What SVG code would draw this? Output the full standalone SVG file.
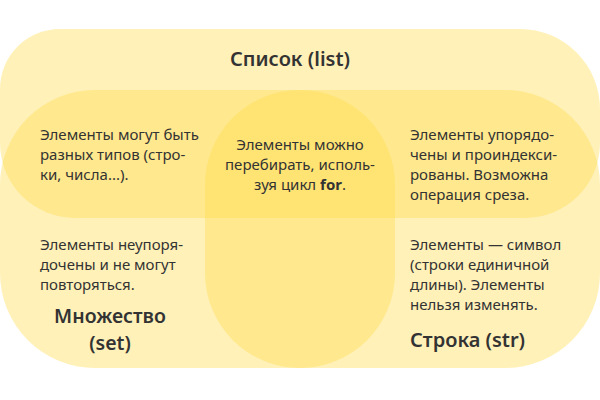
<svg xmlns="http://www.w3.org/2000/svg" width="600" height="400" viewBox="0 0 600 400">
<style>
.sh{fill:#FFDB4D;fill-opacity:0.4}
text{font-family:"Noto Sans","Open Sans",sans-serif;fill:#333333}
.t{font-size:15px}
.h{font-size:20px;font-weight:600}
.hs{font-size:19.5px;font-weight:600}
.b{font-weight:700}
</style>
<rect width="600" height="400" fill="#ffffff"/>
<g id="list">
<path class="sh" d="M60,29 H520 A80,80 0 0 1 600,109 V143 A75,75 0 0 1 525,218 H75 A75,75 0 0 1 0,143 V89 A60,60 0 0 1 60,29 Z"/>
<text class="h" x="290" y="66" text-anchor="middle">Список (list)</text>
</g>
<g id="set">
<path class="sh" d="M95,90 H300 A95,95 0 0 1 395,185 V273 A95,95 0 0 1 300,368 H95 A95,95 0 0 1 0,273 V185 A95,95 0 0 1 95,90 Z"/>
<text class="t" x="40" y="250">Элементы неупоря-</text>
<text class="t" x="40" y="270">дочены и не могут</text>
<text class="t" x="40" y="290">повторяться.</text>
<text class="hs" x="110" y="323" text-anchor="middle">Множество</text>
<text class="hs" x="110" y="350" text-anchor="middle">(set)</text>
</g>
<g id="str">
<path class="sh" d="M300,90 H505 A95,95 0 0 1 600,185 V273 A95,95 0 0 1 505,368 H300 A95,95 0 0 1 205,273 V185 A95,95 0 0 1 300,90 Z"/>
<text class="t" x="410" y="250">Элементы — символ</text>
<text class="t" x="410" y="270">(строки единичной</text>
<text class="t" x="410" y="290">длины). Элементы</text>
<text class="t" x="410" y="310">нельзя изменять.</text>
<text class="h" x="410" y="347">Строка (str)</text>
</g>
<g id="list-set">
<text class="t" x="40" y="140">Элементы могут быть</text>
<text class="t" x="40" y="160">разных типов (стро-</text>
<text class="t" x="40" y="180">ки, числа...).</text>
</g>
<g id="list-str">
<text class="t" x="410" y="140">Элементы упорядо-</text>
<text class="t" x="410" y="160">чены и проиндекси-</text>
<text class="t" x="410" y="180">рованы. Возможна</text>
<text class="t" x="410" y="200">операция среза.</text>
</g>
<g id="all">
<text class="t" x="300" y="150" text-anchor="middle">Элементы можно</text>
<text class="t" x="300" y="170" text-anchor="middle">перебирать, исполь-</text>
<text class="t" x="300" y="190" text-anchor="middle">зуя цикл <tspan class="b">for</tspan>.</text>
</g>
</svg>
